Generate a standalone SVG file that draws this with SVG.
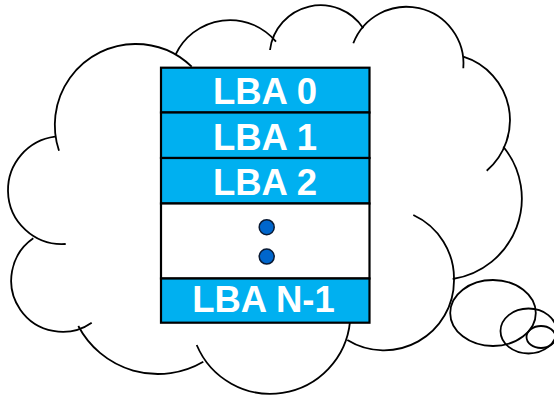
<svg xmlns="http://www.w3.org/2000/svg" width="554" height="399" viewBox="0 0 554 399">
<style>
.c{fill:none;stroke:#000;stroke-width:1.8;stroke-linecap:butt}
.row{fill:#00B0F0;stroke:#000;stroke-width:2.2}
.gap{fill:#fff;stroke:#000;stroke-width:2.2}
.t{font-family:"Liberation Sans",Arial,sans-serif;font-weight:bold;font-size:36.5px;fill:#fff;text-anchor:middle}
.dot{fill:#0066CC;stroke:#0A1A33;stroke-width:1.5}
</style>
<rect width="554" height="399" fill="#fff"/>
<g id="cloud">
<path class="c" d="M59,150.7 A81,81 0 0 1 135,44 A81,81 0 0 1 191.7,66.7"/>
<path class="c" d="M175.7,54.3 A60,60 0 0 1 276,41.7"/>
<path class="c" d="M270,50 A51,51 0 0 1 363.3,28.3"/>
<path class="c" d="M353.3,43.3 A57,57 0 0 1 463.3,68.3"/>
<path class="c" d="M463.3,56.7 A66.5,66.5 0 0 1 486.7,170.7"/>
<path class="c" d="M503.3,146.7 A81.5,81.5 0 0 1 452.7,279"/>
<path class="c" d="M413.3,215 A70,70 0 0 1 454,280 A70,70 0 0 1 347.3,340"/>
<path class="c" d="M350,321.7 A80,80 0 0 1 196.7,345"/>
<path class="c" d="M203.3,361.7 A90,90 0 0 1 78.3,326"/>
<path class="c" d="M91.7,322.7 A51,51 0 0 1 33.3,238.3"/>
<path class="c" d="M65.7,244 A54,54 0 0 1 8,191 A54,54 0 0 1 55,136.7"/>
</g>
<g id="bubbles">
<ellipse class="c" cx="493" cy="313" rx="42.8" ry="33"/>
<ellipse class="c" cx="528.5" cy="331" rx="28" ry="22.5"/>
<ellipse class="c" cx="541" cy="337" rx="14.5" ry="11"/>
</g>
<g id="lba0"><rect class="row" x="161" y="67.7" width="208.5" height="44.8"/><text class="t" x="265" y="103.5">LBA 0</text></g>
<g id="lba1"><rect class="row" x="161" y="112.5" width="208.5" height="45.5"/><text class="t" x="265" y="149.5">LBA 1</text></g>
<g id="lba2"><rect class="row" x="161" y="158" width="208.5" height="45.5"/><text class="t" x="265" y="194.5">LBA 2</text></g>
<g id="ellipsis"><rect class="gap" x="161" y="203.5" width="208.5" height="75"/><circle class="dot" cx="266.7" cy="227.2" r="7.5"/><circle class="dot" cx="266.7" cy="256.6" r="7.5"/></g>
<g id="lbaN1"><rect class="row" x="161" y="278.5" width="208.5" height="44.2"/><text class="t" x="263.5" y="312">LBA N-1</text></g>
</svg>
